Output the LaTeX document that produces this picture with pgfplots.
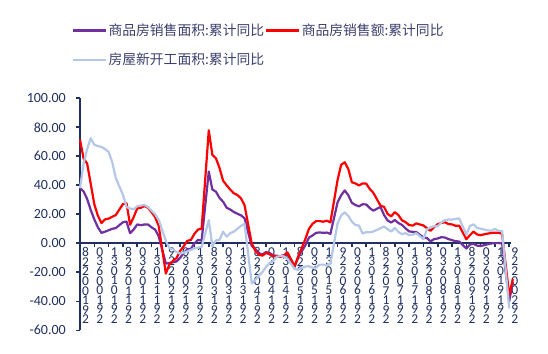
\documentclass[border=0pt]{standalone}
\usepackage{fontspec}
\setmainfont{Carlito}
\newfontfamily\cjk{Noto Sans CJK SC}
\usepackage{pgfplots}
\usepackage{pgfplotstable}
\pgfplotsset{compat=1.18}
\definecolor{navy}{RGB}{32,48,96}
\definecolor{cpurple}{RGB}{112,48,160}
\definecolor{cred}{RGB}{255,0,0}
\definecolor{cblue}{RGB}{180,199,231}
\definecolor{legtext}{RGB}{60,64,110}
\newcommand\vd[8]{#1\\#2\\#3\\#4\\#5\\#6\\#7\\#8}
\pgfplotstableread{
i area rev starts
0 38.2 71.5 38
1 35.8 58.5 55
2 30.5 55 65
3 23 41 72.5
4 16.5 27 68
5 11 19 67
6 7.2 14 66.5
7 8 16.5 65
8 9 17 63
9 10 18.3 56
10 10.5 19.5 45
12 14.5 27 33.5
13 15 27.6 25
14 7 12.8 24
15 9.5 18 23.5
16 13 24.1 25.5
17 12.5 24.5 26
18 13 25.7 26.5
19 13 24.5 25
20 11 21.5 22.5
21 9.5 18 20
22 4.9 12.1 16.2
24 -14.0 -20.9 1.6
25 -13.6 -14.5 -3.3
26 -13.1 -12.1 -4.2
27 -12.5 -10.1 -6
28 -10.0 -5.2 -7.1
29 -6.6 -2.0 -6.5
30 -4.1 1.7 -5.5
31 -3.8 2.3 -4.5
32 -0.1 6.6 -3.5
33 2.4 9.5 -3
34 1.8 10.0 -2.5
36 49.5 77.9 16
37 37.1 61 -2
38 35.6 58.6 2
39 31.3 52 2.5
40 28.7 43.2 8
41 24.5 40 4.6
42 23.3 37 7
43 21.6 34.5 8
44 20.4 33.3 10
45 19.3 31 12
46 17.3 26.3 13.5
48 -1.8 -0.1 -27.6
49 -3.8 -5.2 -25.2
50 -6.8 -7.8 -22.3
51 -7.8 -8.5 -19.8
52 -6.0 -6.7 -16.4
53 -6.7 -7.5 -13.6
54 -8.3 -8.9 -12.2
55 -8.6 -8.9 -9.3
56 -8.9 -9.5 -8.8
57 -8.2 -8.4 -9.0
58 -7.6 -6.3 -10.7
60 -16.3 -15.8 -17.7
61 -9.2 -9.3 -18.4
62 -5.4 -3.3 -17.1
63 -1.4 3.0 -16.0
64 3.9 10.0 -15.8
65 5.4 13.4 -16.8
66 7.2 15.3 -16.8
67 7.5 15.3 -14.7
68 7.2 14.9 -14.7
69 7.4 15.6 -15.3
70 6.5 14.4 -14.0
72 28.2 43.6 13.7
73 33.1 54.1 19.2
74 36.5 55.9 21.4
75 33.2 51.3 18.9
76 27.9 42.1 14.9
77 26.4 41.3 12.6
78 25.5 39.9 12.2
79 26.9 41.3 6.7
80 26.8 41.2 7.7
81 24.3 37.5 7.6
82 22.5 34.8 8.1
84 25.1 26.0 10.4
85 19.5 25.1 11.6
86 15.7 20.2 9.7
87 14.3 18.6 8.1
88 16.1 21.5 10.6
89 14.0 19.5 7.9
90 12.7 15.9 6.3
91 10.3 14.6 7.0
92 8.2 12.6 5.6
93 7.9 12.2 6.0
94 7.7 13.7 7.0
96 4.1 12.3 2.9
97 3.6 10.4 9.7
98 1.3 8.6 10.9
99 2.9 11.2 11.8
100 3.3 13.2 11.8
101 4.2 14.1 14.4
102 4.0 14.5 15.9
103 2.9 13.3 16.4
104 2.2 13.0 16.3
105 1.4 12.1 16.8
106 1.3 12.2 17.2
108 -3.6 2.8 6.0
109 -0.9 5.6 11.9
110 -0.3 8.1 13.1
111 -1.6 6.1 10.5
112 -1.8 5.6 10.1
113 -1.3 6.2 9.5
114 -0.6 6.7 8.9
115 -0.1 7.1 8.6
116 0.1 7.3 10.0
117 0.2 7.3 8.6
118 -0.1 6.5 8.5
120 -39.9 -35.9 -44.9
121 -26.3 -24.7 nan
}\data
\begin{document}
\begin{tikzpicture}
\useasboundingbox (-80pt,-22.7pt) rectangle (468pt,330.3pt);
\begin{axis}[
  scale only axis,
  width=431.4pt, height=232pt,
  xmin=0, xmax=120.6, ymin=-60, ymax=100,
  clip=false,
  axis x line=middle, axis y line=left,
  hide obscured x ticks=false,
  axis line style={-, draw=navy, line width=2.4pt},
  xtick={0,4,...,120},
  xticklabels={
   {\vd 82200192},{\vd 03600192},{\vd 13010192},
   {\vd 82201192},{\vd 03601192},{\vd 13011192},
   {\vd 92202192},{\vd 03602192},{\vd 13012192},
   {\vd 82203192},{\vd 03603192},{\vd 13013192},
   {\vd 82204192},{\vd 03604192},{\vd 13014192},
   {\vd 82205192},{\vd 03605192},{\vd 13015192},
   {\vd 92206192},{\vd 03606192},{\vd 13016192},
   {\vd 82207192},{\vd 03607192},{\vd 13017192},
   {\vd 82208192},{\vd 03608192},{\vd 13018192},
   {\vd 82209192},{\vd 03609192},{\vd 13019192},
   {\vd 92200292}},
  ytick={-60,-40,...,100},
  yticklabels={-60.00,-40.00,-20.00,0.00,20.00,40.00,60.00,80.00,100.00},
  tick align=outside,
  major tick length=4pt,
  tick style={draw=navy, line width=1.6pt},
  x tick label style={font=\fontsize{13.5}{9.6}\selectfont, align=center, anchor=north, xshift=5.6pt, inner sep=0pt, text=navy},
  y tick label style={font=\fontsize{14}{16}\selectfont, anchor=east, inner sep=0pt, xshift=-10pt, text=navy},
  legend columns=2,
  legend style={at={(-0.0192,1.325)}, anchor=north west, draw=none, fill=none, inner sep=0pt,
    font=\cjk\fontsize{13.8}{16}\selectfont, text=legtext,
    nodes={inner sep=1pt}, column sep=0pt, row sep=14pt},
  legend cell align=left,
  legend image code/.code={\draw[#1, line width=2.6pt] (0pt,0pt) -- (33pt,0pt);},
]
\addplot[cpurple, line width=2.2pt, line join=round] table[x=i, y=area] {\data};
\addlegendentry{商品房销售面积:累计同比}
\addplot[cred, line width=2.2pt, line join=round] table[x=i, y=rev] {\data};
\addlegendentry{商品房销售额:累计同比}
\addplot[cblue, line width=2.2pt, line join=round] table[x=i, y=starts] {\data};
\addlegendentry{房屋新开工面积:累计同比}
\end{axis}
\end{tikzpicture}
\end{document}
